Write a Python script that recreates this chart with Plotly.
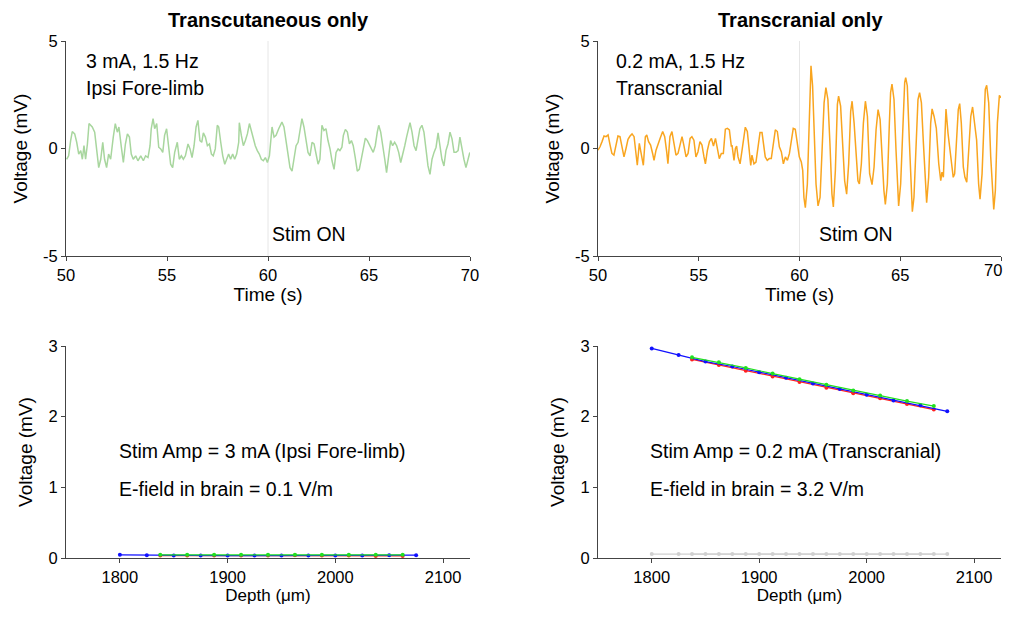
import plotly.graph_objects as go

# ---------------- data ----------------
# Top-left: transcutaneous trace (time s, voltage mV)
tl_t = [50.03, 50.13, 50.23, 50.31, 50.43, 50.53, 50.63, 50.73, 50.81, 50.89, 50.97, 51.06, 51.14, 51.30, 51.42,
        51.52, 51.62, 51.72, 51.82, 51.91, 52.01, 52.11, 52.21, 52.34, 52.44, 52.54, 52.62, 52.74, 52.84, 52.94,
        53.04, 53.14, 53.23, 53.33, 53.45, 53.56, 53.70, 53.83, 53.94, 54.06, 54.16, 54.22, 54.31, 54.39, 54.49,
        54.59, 54.69, 54.79, 54.88, 54.98, 55.08, 55.18, 55.28, 55.38, 55.51, 55.61, 55.71, 55.81, 55.91, 56.04,
        56.14, 56.24, 56.34, 56.44, 56.53,
        56.63, 56.72, 56.80, 56.90, 57.00, 57.10, 57.20, 57.29, 57.39, 57.49, 57.56, 57.66, 57.76, 57.86, 57.95,
        58.05, 58.15, 58.25, 58.35, 58.45, 58.55, 58.58, 58.68, 58.78, 58.88, 58.98, 59.08, 59.18, 59.27, 59.37,
        59.47, 59.57, 59.67, 59.77, 59.87, 59.97, 60.07, 60.13, 60.20, 60.30, 60.40, 60.53, 60.69, 60.79, 60.89,
        60.99, 61.09, 61.19, 61.29, 61.39, 61.49, 61.58, 61.68, 61.78, 61.88, 61.98, 62.08, 62.18, 62.28, 62.38,
        62.48, 62.57, 62.67, 62.77, 62.87, 62.97, 63.07, 63.17, 63.27,
        63.37, 63.47, 63.56, 63.66, 63.73, 63.83, 63.93, 64.03, 64.13, 64.22, 64.32, 64.42, 64.52, 64.62, 64.72,
        64.82, 64.92, 65.02, 65.12, 65.21, 65.31, 65.41, 65.48, 65.58, 65.68, 65.78, 65.87, 65.97, 66.07, 66.17,
        66.27, 66.37, 66.47, 66.57, 66.67, 66.77, 66.86, 66.96, 67.03, 67.13, 67.23, 67.33, 67.43, 67.52, 67.62,
        67.72, 67.82, 67.92, 68.02, 68.12, 68.22, 68.32, 68.42, 68.51, 68.61, 68.71, 68.81, 68.91, 69.01, 69.11,
        69.21, 69.31, 69.41, 69.50, 69.60, 69.70, 69.80, 69.90, 69.99]
tl_v = [-0.50, -0.34, 0.37, 0.79, 0.68, 0.29, -0.26, -0.10, -0.50, 0.13, -0.50, 0.21, 1.16, 1.00, 0.76,
        -0.18, -0.89, -0.50, 0.29, -0.50, -0.89, -0.26, -0.50, 0.53, 1.16, 0.76, 1.00, 0.06, -0.65, 0.21,
        0.68, 0.53, -0.26, -0.50, -0.34, -0.57, -0.34, -0.57, -0.34, -0.42, 0.13, 0.92, 1.39, 0.92, 1.16,
        0.06, -0.02, -0.18, 0.61, 0.92, 0.13, -0.73, -0.89, -0.18, 0.29, -0.50, -0.34, -0.50, -0.34, 0.21,
        -0.02, -0.42, 0.13, 1.00, 1.31,
        0.37, 0.29, 0.73, 0.53, 0.13, 0.21, -0.26, -0.34, -0.02, 1.08, 1.00, 0.29, -0.34, -0.73, -0.50,
        -0.26, -0.50, -0.26, -0.50, -0.26, 0.29, 1.20, 0.61, 0.13, 0.37, 0.68, 1.16, 0.76, 0.53, 0.13,
        -0.10, -0.26, -0.50, -0.57, -0.42, -0.65, -0.34, 0.29, 1.00, 0.53, 0.61, 0.92, 1.23, 1.00, 0.37,
        -0.42, -0.89, -1.05, -0.50, 0.13, 0.29, 0.76, 1.39, 1.00, 0.37, -0.18, -0.34, 0.29, 0.21, -0.26,
        -0.73, -0.50, 1.08, 0.84, 0.92, 0.37, -0.02, -0.57, -0.97,
        -0.18, -0.02, -0.10, 0.06, 0.61, 0.89, 0.76, 0.21, 0.37, 0.13, -0.42, -1.05, -0.97, -0.50, 0.06,
        0.48, 0.37, 0.13, -0.02, -0.18, 0.13, 0.76, 1.08, 0.76, 0.21, -0.50, -1.12, -0.34, 0.37, 0.13,
        0.29, 0.13, -0.18, -0.65, -0.18, 0.13, 0.53, 0.92, 1.20, 0.76, 0.13, -0.10, 0.45, 0.92, 1.08,
        0.76, -0.02, -0.81, -1.20, -0.50, -0.18, 0.06, 0.73, 0.13, -0.50, -0.81, -0.10, 0.21, 0.76, 0.45,
        -0.18, -0.18, -0.10, 0.53, -0.02, -0.50, -0.89, -0.50, -0.18]

# Top-right: transcranial trace (time s, voltage mV)
tr_t = [50.00, 50.10, 50.20, 50.30, 50.40, 50.50, 50.60, 50.69, 50.79, 50.89, 50.99, 51.09, 51.19, 51.29, 51.39,
        51.49, 51.59, 51.69, 51.79, 51.89, 51.95, 52.05, 52.15, 52.25, 52.35, 52.42, 52.51, 52.61, 52.71, 52.78,
        52.88, 52.98, 53.08, 53.21, 53.31, 53.41, 53.47, 53.57, 53.67, 53.77, 53.87, 53.97, 54.07, 54.17, 54.27,
        54.37, 54.47, 54.57, 54.66, 54.76, 54.86, 54.96, 55.06, 55.16, 55.26, 55.33, 55.43, 55.53, 55.63, 55.73,
        55.83, 55.93, 56.02, 56.12, 56.22, 56.32, 56.42, 56.52, 56.62,
        56.65, 56.75, 56.82, 56.88, 56.95, 57.05, 57.15, 57.25, 57.31, 57.41, 57.51, 57.58, 57.64, 57.74, 57.84,
        57.94, 58.04, 58.14, 58.24, 58.30, 58.40, 58.50, 58.60, 58.70, 58.80, 58.90, 59.00, 59.10, 59.20, 59.30,
        59.40, 59.50, 59.59, 59.69, 59.79, 59.89, 59.99, 60.09, 60.16, 60.22, 60.29, 60.39, 60.49, 60.57, 60.65,
        60.75, 60.82, 60.92, 61.02, 61.12, 61.22, 61.31, 61.41, 61.51, 61.61, 61.68, 61.78, 61.88, 61.94, 62.04,
        62.14, 62.24, 62.34, 62.44, 62.54, 62.61, 62.71, 62.80, 62.90, 62.97, 63.07, 63.17, 63.27, 63.37,
        63.40, 63.48, 63.60, 63.70, 63.80, 63.90, 64.00, 64.09, 64.19, 64.26, 64.36, 64.46, 64.52, 64.59, 64.69,
        64.79, 64.86, 64.92, 65.02, 65.12, 65.22, 65.27, 65.35, 65.45, 65.52, 65.60, 65.68, 65.78, 65.88, 65.96,
        66.05, 66.15, 66.25, 66.31, 66.41, 66.51, 66.58, 66.68, 66.79, 66.91, 67.01, 67.07, 67.14, 67.20, 67.27,
        67.37, 67.47, 67.57, 67.63, 67.70, 67.80, 67.88, 67.95, 68.03, 68.13, 68.21, 68.30, 68.40, 68.50, 68.59,
        68.69, 68.79, 68.89, 68.96, 69.06, 69.16, 69.22, 69.29, 69.39, 69.49, 69.57, 69.64, 69.72, 69.82, 69.92,
        70.00]
tr_v = [-0.08, 0.08, 0.32, 0.58, 0.55, 0.63, 0.16, -0.23, -0.31, 0.08, 0.58, 0.55, 0.00, -0.39, 0.00,
        0.43, 0.58, 0.68, 0.55, -0.23, -0.78, 0.24, -0.31, -0.78, 0.55, 0.63, 0.32, 0.16, -0.23, -0.55,
        -0.08, 0.24, 0.47, 0.79, 0.55, -0.16, -0.71, 0.55, 0.79, 0.24, -0.31, -0.23, 0.24, 0.55, 0.11,
        -0.39, -0.23, 0.47, 0.55, 0.39, -0.39, -0.16, 0.32, 0.16, -0.39, -0.71, -0.08, 0.32, 0.47, 0.11,
        0.47, -0.08, -0.47, -0.23, -0.23, 0.90, 0.94, 0.87, 0.08,
        0.16, -0.55, 0.00, 0.11, -0.39, -0.71, -0.08, 0.79, 0.99, 0.79, -0.08, -0.79, -0.31, -0.71, -0.63,
        0.08, 0.74, 0.74, 0.16, -0.39, -0.55, -0.47, -0.47, 0.24, 0.87, 0.79, 0.08, -0.16, -0.71, -0.39,
        -0.55, -0.23, 0.39, 0.94, 0.90, 0.32, -0.39, -0.63, -1.02, -2.28, -2.75, -1.65, 1.97, 3.85, 2.91,
        0.39, -1.65, -2.67, -2.28, -0.08, 2.12, 2.83, 2.28, 0.24, -2.12, -2.72, -1.02, 2.05, 2.44, 1.97,
        0.08, -1.50, -2.12, -0.71, 1.73, 2.20, 1.18, -0.39, -1.50, -1.65, -0.71, 1.18, 2.20, 1.50,
        0.87, -1.17, -1.68, -0.86, 0.87, 1.81, 1.34, -0.39, -1.96, -2.60, -1.65, 1.18, 2.60, 2.99, 2.28,
        -0.08, -1.96, -2.67, -1.65, 1.18, 3.07, 3.30, 2.91, 0.39, -1.65, -2.94, -2.28, 0.39, 2.28, 2.60,
        2.12, 0.24, -1.96, -2.52, -1.34, 1.18, 1.84, 1.49, 0.94, -0.71, -1.50, -1.10, -1.34, 0.55, 1.84,
        0.71, -0.08, -1.02, -1.34, -1.18, 0.39, 1.81, 2.09, 1.18, -0.86, -1.34, -1.57, -0.24, 1.49, 1.93,
        1.18, 0.39, -1.65, -2.36, -1.18, 1.65, 2.75, 2.94, 2.12, -0.39, -2.04, -2.83, -1.96, 1.18, 2.47,
        2.36]

# Bottom panels: depth profiles
depth_a = [1800, 1825, 1850, 1875, 1900, 1925, 1950, 1975, 2000, 2025, 2050, 2075]
depth_b = [1837.5, 1862.5, 1887.5, 1912.5, 1937.5, 1962.5, 1987.5, 2012.5, 2037.5, 2062.5]

bl_blue = [0.045, 0.04, 0.035, 0.035, 0.035, 0.035, 0.035, 0.035, 0.035, 0.035, 0.04, 0.04]
bl_green = [0.045, 0.045, 0.045, 0.045, 0.045, 0.045, 0.045, 0.045, 0.045, 0.045]
bl_red = [0.035, 0.035, 0.035, 0.035, 0.035, 0.04, 0.035, 0.035, 0.03, 0.03]

br_blue = [2.966, 2.873, 2.78, 2.71, 2.63, 2.55, 2.47, 2.39, 2.31, 2.23, 2.16, 2.075]
br_green = [2.84, 2.77, 2.69, 2.61, 2.53, 2.45, 2.37, 2.30, 2.22, 2.15]
br_red = [2.81, 2.73, 2.65, 2.57, 2.49, 2.41, 2.33, 2.26, 2.18, 2.10]
br_gray_a = [0.055] * 12
br_gray_b = [0.055] * 10

time_ticks = [50, 55, 60, 65, 70]
time_ticktext = ["50", "55", "60", "65", "70"]
time_ticktext_right = ["50", "55", "60", "65", ""]  # last label drawn as a note so it stays on screen
trace_ticks = [-5, 0, 5]
trace_ticktext = ["-5", "0", "5"]
depth_ticks = [1800, 1900, 2000, 2100]
volt_ticks = [0, 1, 2, 3]

# ---------------- figure ----------------
OFF = 8  # page body margin in the browser
W, H = 1012 - OFF, 619 - 2 * OFF
FONT = "Arial, Liberation Sans, sans-serif"
AX = "#444444"
TICK_SIZE = 16.5
TITLE_SIZE = 19
NOTE_SIZE = 19.5


def px(x):
    return (x - OFF) / W


def py(y):
    return 1 - (y - OFF) / H


fig = go.Figure()

fig.add_trace(go.Scatter(x=tl_t, y=tl_v, mode="lines", line=dict(color="#a8d69e", width=1.5),
                         xaxis="x", yaxis="y", showlegend=False))
fig.add_trace(go.Scatter(x=tr_t, y=tr_v, mode="lines", line=dict(color="#f9a51f", width=1.5),
                         xaxis="x2", yaxis="y2", showlegend=False))


def prof(x, y, color, xa, ya, lw=1.2, ms=4):
    fig.add_trace(go.Scatter(x=x, y=y, mode="lines+markers",
                             line=dict(color=color, width=lw),
                             marker=dict(color=color, size=ms),
                             xaxis=xa, yaxis=ya, showlegend=False))


prof(depth_b, bl_red, "#ff2020", "x3", "y3")
prof(depth_a, bl_blue, "#1010ff", "x3", "y3")
prof(depth_b, bl_green, "#20e020", "x3", "y3")

prof(depth_a, br_gray_a, "#d0d0d0", "x4", "y4")
prof(depth_b, br_gray_b, "#d0d0d0", "x4", "y4")
prof(depth_b, br_red, "#ff2020", "x4", "y4")
prof(depth_a, br_blue, "#1010ff", "x4", "y4")
prof(depth_b, br_green, "#20e020", "x4", "y4")

common = dict(showgrid=False, zeroline=False, showline=True, linecolor=AX, linewidth=1,
              ticks="outside", ticklen=4, tickcolor=AX, tickwidth=1, automargin=False,
              ticklabeloverflow="allow",
              tickfont=dict(family=FONT, size=TICK_SIZE, color="#000"))

dl = [px(66), px(470)]
dr = [px(598), px(1001)]
dt = [py(256), py(41)]
db = [py(558), py(346)]


def xt(text, size=TITLE_SIZE):
    return dict(text=text, font=dict(size=size), standoff=1)


def yt(text):
    return dict(text=text, font=dict(size=TITLE_SIZE), standoff=10)


fig.update_layout(
    width=W, height=H, autosize=False,
    margin=dict(l=0, r=0, t=0, b=0),
    paper_bgcolor="white", plot_bgcolor="white",
    font=dict(family=FONT, size=16, color="#000"),
    xaxis=dict(domain=dl, range=[50, 70], tickvals=time_ticks, ticktext=time_ticktext, anchor="y",
               title=xt("Time (s)"), **common),
    yaxis=dict(domain=dt, range=[-5, 5], tickvals=trace_ticks, ticktext=trace_ticktext, anchor="x",
               title=yt("Voltage (mV)"), **common),
    xaxis2=dict(domain=dr, range=[50, 70], tickvals=time_ticks, ticktext=time_ticktext_right, anchor="y2",
                title=xt("Time (s)"), **common),
    yaxis2=dict(domain=dt, range=[-5, 5], tickvals=trace_ticks, ticktext=trace_ticktext, anchor="x2",
                title=yt("Voltage (mV)"), **common),
    xaxis3=dict(domain=dl, range=[1750, 2125], tickvals=depth_ticks, anchor="y3",
                title=xt("Depth (μm)", 17), **common),
    yaxis3=dict(domain=db, range=[0, 3], tickvals=volt_ticks, anchor="x3", title=yt("Voltage (mV)"), **common),
    xaxis4=dict(domain=dr, range=[1750, 2125], tickvals=depth_ticks, anchor="y4",
                title=xt("Depth (μm)", 17), **common),
    yaxis4=dict(domain=db, range=[0, 3], tickvals=volt_ticks, anchor="x4", title=yt("Voltage (mV)"), **common),
)

# stim-on vertical lines
for xr, yr in (("x", "y domain"), ("x2", "y2 domain")):
    fig.add_shape(type="line", xref=xr, yref=yr, x0=60, x1=60, y0=0, y1=1,
                  line=dict(color="#e6e6e6", width=1), layer="below")


def note(text, x, y, xanchor="left", size=NOTE_SIZE, bold=False, yanchor="middle"):
    fig.add_annotation(text=f"<b>{text}</b>" if bold else text, x=px(x), y=py(y),
                       xref="paper", yref="paper", xanchor=xanchor, yanchor=yanchor,
                       showarrow=False, borderpad=0,
                       font=dict(family=FONT, size=size, color="#000"))


note("Transcutaneous only", 268, OFF, "center", 20, True, "top")
note("Transcranial only", 800, OFF, "center", 20, True, "top")
note("3 mA, 1.5 Hz", 85, 61)
note("Ipsi Fore-limb", 85, 88)
note("Stim ON", 271, 234)
note("0.2 mA, 1.5 Hz", 615, 61)
note("Transcranial", 615, 88)
note("Stim ON", 818, 234)
note("Stim Amp = 3 mA (Ipsi Fore-limb)", 118, 451)
note("E-field in brain = 0.1 V/m", 118, 489)
note("Stim Amp = 0.2 mA (Transcranial)", 649, 451)
note("E-field in brain = 3.2 V/m", 649, 489)

# last time tick label of the right panel, kept inside the visible page
fig.add_annotation(text=time_ticktext[-1], x=time_ticks[-1], xref="x2", y=py(260), yref="paper",
                   xanchor="right", yanchor="top", xshift=2, showarrow=False, borderpad=0,
                   font=dict(family=FONT, size=TICK_SIZE, color="#000"))

fig.write_html("out.html")
